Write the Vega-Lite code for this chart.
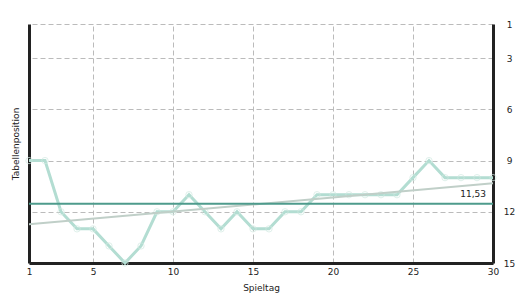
{
  "$schema": "https://vega.github.io/schema/vega-lite/v6.json",
  "width": 464,
  "height": 239,
  "autosize": {"type": "none"},
  "padding": {"left": 29, "top": 24, "right": 34, "bottom": 36},
  "background": "white",
  "config": {
    "view": {"stroke": null},
    "font": "DejaVu Sans",
    "axis": {"labelFont": "DejaVu Sans", "titleFont": "DejaVu Sans", "labelFontSize": 9, "titleFontSize": 9, "titleFontWeight": "normal", "labelColor": "#222", "titleColor": "#222"}
  },
  "datasets": {
    "table": [
      {"spieltag": 1, "platz": 9}, {"spieltag": 2, "platz": 9}, {"spieltag": 3, "platz": 12},
      {"spieltag": 4, "platz": 13}, {"spieltag": 5, "platz": 13}, {"spieltag": 6, "platz": 14},
      {"spieltag": 7, "platz": 15}, {"spieltag": 8, "platz": 14}, {"spieltag": 9, "platz": 12},
      {"spieltag": 10, "platz": 12}, {"spieltag": 11, "platz": 11}, {"spieltag": 12, "platz": 12},
      {"spieltag": 13, "platz": 13}, {"spieltag": 14, "platz": 12}, {"spieltag": 15, "platz": 13},
      {"spieltag": 16, "platz": 13}, {"spieltag": 17, "platz": 12}, {"spieltag": 18, "platz": 12},
      {"spieltag": 19, "platz": 11}, {"spieltag": 20, "platz": 11}, {"spieltag": 21, "platz": 11},
      {"spieltag": 22, "platz": 11}, {"spieltag": 23, "platz": 11}, {"spieltag": 24, "platz": 11},
      {"spieltag": 25, "platz": 10}, {"spieltag": 26, "platz": 9}, {"spieltag": 27, "platz": 10},
      {"spieltag": 28, "platz": 10}, {"spieltag": 29, "platz": 10}, {"spieltag": 30, "platz": 10}
    ],
    "avg": [{"spieltag": 30, "platz": 11.53, "label": "11,53"}]
  },
  "layer": [
    {
      "data": {"name": "table"},
      "mark": {"type": "line", "color": "#b3ddd2", "strokeWidth": 3},
      "encoding": {
        "x": {"field": "spieltag", "type": "quantitative", "scale": {"domain": [1, 30], "nice": false, "zero": false},
          "axis": {"values": [1, 5, 10, 15, 20, 25, 30], "title": "Spieltag", "grid": true, "gridDash": [5, 3], "gridColor": "#bbbbbb", "gridWidth": 1, "ticks": false, "domainColor": "#222", "domainWidth": 3, "labelPadding": 4, "titlePadding": 7, "labelFlush": false}},
        "y": {"field": "platz", "type": "quantitative", "scale": {"domain": [1, 15], "nice": false, "zero": false, "reverse": true},
          "axis": {"orient": "right", "values": [1, 3, 6, 9, 12, 15], "title": null, "grid": true, "gridDash": [5, 3], "gridColor": "#bbbbbb", "gridWidth": 1, "ticks": false, "domainColor": "#222", "domainWidth": 3, "labelPadding": 16, "labelAlign": "center"}}
      }
    },
    {
      "data": {"name": "table"},
      "mark": {"type": "point", "shape": "circle", "filled": false, "color": "#d3ebe3", "size": 40, "strokeWidth": 1},
      "encoding": {
        "x": {"field": "spieltag", "type": "quantitative"},
        "y": {"field": "platz", "type": "quantitative", "axis": {"orient": "left", "labels": false, "ticks": false, "grid": false, "title": "Tabellenposition", "domainColor": "#222", "domainWidth": 3, "titlePadding": 9}}
      }
    },
    {
      "data": {"name": "table"},
      "transform": [{"regression": "platz", "on": "spieltag", "extent": [1, 30]}],
      "mark": {"type": "line", "color": "#c0cfc8", "strokeWidth": 2},
      "encoding": {
        "x": {"field": "spieltag", "type": "quantitative"},
        "y": {"field": "platz", "type": "quantitative", "axis": null}
      }
    },
    {
      "data": {"name": "avg"},
      "mark": {"type": "rule", "color": "#4e9b8c", "strokeWidth": 2},
      "encoding": {
        "y": {"field": "platz", "type": "quantitative", "axis": null}
      }
    },
    {
      "data": {"name": "avg"},
      "mark": {"type": "text", "align": "right", "baseline": "alphabetic", "dx": -7, "dy": -7, "fontSize": 9, "color": "#222", "font": "DejaVu Sans"},
      "encoding": {
        "x": {"field": "spieltag", "type": "quantitative"},
        "y": {"field": "platz", "type": "quantitative", "axis": null},
        "text": {"field": "label"}
      }
    }
  ],
  "resolve": {"axis": {"y": "independent"}}
}
